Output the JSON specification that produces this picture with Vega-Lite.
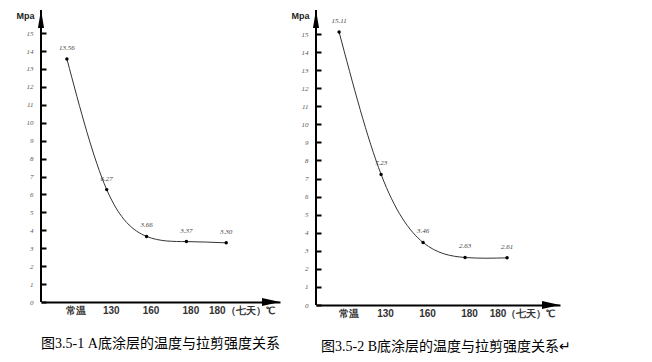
{
  "$schema": "https://vega.github.io/schema/vega-lite/v6.json",
  "background": "white",
  "autosize": {"type": "none"},
  "padding": {"left": 41, "top": 10, "right": 611, "bottom": 352},
  "bounds": "flush",
  "spacing": 36,
  "config": {
    "view": {"stroke": null},
    "axisY": {
      "grid": false,
      "labelOverlap": false,
      "offset": -5,
      "domain": false,
      "tickSize": 5,
      "tickWidth": 2,
      "tickColor": "black",
      "labelFont": "Liberation Serif",
      "labelFontStyle": "italic",
      "labelFontSize": 7,
      "labelColor": "#555",
      "labelPadding": 8,
      "titleAngle": 0,
      "titleFont": "Liberation Sans",
      "titleFontSize": 9,
      "titleFontWeight": "bold",
      "titleColor": "#222",
      "titleAlign": "center",
      "titleBaseline": "middle",
      "titleX": -21,
      "titleY": 5
    },
    "axisX": {
      "grid": false,
      "ticks": false,
      "labelOverlap": false,
      "domainColor": "black",
      "domainWidth": 2,
      "labelFont": "Liberation Sans",
      "labelFontWeight": "bold",
      "labelFontSize": 10,
      "labelColor": "#333",
      "labelPadding": 3,
      "labelExpr": "['','常温','130','160','180','180（七天）℃'][datum.value]",
      "labelOffset": {"condition": [{"test": "datum.value == 5", "value": 15}, {"test": "datum.value == 1", "value": 9}], "value": 4}
    },
    "title": {
      "font": "Liberation Serif, Noto Sans CJK SC",
      "fontSize": 14,
      "fontWeight": "normal",
      "color": "black",
      "orient": "bottom",
      "anchor": "middle",
      "offset": 22
    }
  },
  "hconcat": [
    {
      "width": 239,
      "height": 292,
      "title": {"text": "图3.5-1 A底涂层的温度与拉剪强度关系"},
      "data": {"values": [
        {"cat": "常温", "idx": 1, "mpa": 13.56, "lbl": "13.56"},
        {"cat": "130", "idx": 2, "mpa": 6.27, "lbl": "6.27"},
        {"cat": "160", "idx": 3, "mpa": 3.66, "lbl": "3.66"},
        {"cat": "180", "idx": 4, "mpa": 3.37, "lbl": "3.37"},
        {"cat": "180（七天）℃", "idx": 5, "mpa": 3.30, "lbl": "3.30"}
      ]},
      "encoding": {
        "x": {"field": "idx", "type": "quantitative", "scale": {"domain": [0.35, 6.35], "nice": false, "zero": false}, "axis": {"title": null, "values": [1,2,3,4,5]}},
        "y": {"field": "mpa", "type": "quantitative", "scale": {"domain": [0, 16.29], "nice": false}, "axis": {"title": "Mpa", "values": [0,1,2,3,4,5,6,7,8,9,10,11,12,13,14,15]}}
      },
      "layer": [
        {"mark": {"type": "rule", "color": "black", "strokeWidth": 2},
         "encoding": {"x": {"datum": 0.35, "type": "quantitative"}, "y": {"datum": 0, "type": "quantitative"}, "y2": {"datum": 16.29}}},
        {"mark": {"type": "line", "interpolate": "natural", "color": "#333", "strokeWidth": 1}},
        {"mark": {"type": "point", "filled": true, "color": "black", "size": 12, "opacity": 1}},
        {"mark": {"type": "text", "dy": -11, "font": "Liberation Serif", "fontStyle": "italic", "fontSize": 7, "color": "#444"}, "encoding": {"text": {"field": "lbl"}}},
        {"data": {"values": [{"ax": "y", "px": 0.35, "py": 16.29}]},
         "mark": {"type": "point", "filled": true, "color": "black", "size": 1296, "opacity": 1},
         "encoding": {"x": {"field": "px", "type": "quantitative"}, "y": {"field": "py", "type": "quantitative"}, "shape": {"value": "M0,0 L-0.17,1 L0.17,1 Z"}}},
        {"data": {"values": [{"ax": "x", "px": 6.35, "py": 0}]},
         "mark": {"type": "point", "filled": true, "color": "black", "size": 1296, "opacity": 1},
         "encoding": {"x": {"field": "px", "type": "quantitative"}, "y": {"field": "py", "type": "quantitative"}, "shape": {"value": "M0,0 L-1,-0.22 L-1,0.22 Z"}}}
      ]
    },
    {
      "width": 244,
      "height": 295,
      "title": {"text": "图3.5-2 B底涂层的温度与拉剪强度关系↵", "dx": 8},
      "data": {"values": [
        {"cat": "常温", "idx": 1, "mpa": 15.11, "lbl": "15.11"},
        {"cat": "130", "idx": 2, "mpa": 7.23, "lbl": "7.23"},
        {"cat": "160", "idx": 3, "mpa": 3.46, "lbl": "3.46"},
        {"cat": "180", "idx": 4, "mpa": 2.63, "lbl": "2.63"},
        {"cat": "180（七天）℃", "idx": 5, "mpa": 2.61, "lbl": "2.61"}
      ]},
      "encoding": {
        "x": {"field": "idx", "type": "quantitative", "scale": {"domain": [0.45, 6.26], "nice": false, "zero": false}, "axis": {"title": null, "values": [1,2,3,4,5]}},
        "y": {"field": "mpa", "type": "quantitative", "scale": {"domain": [0, 16.33], "nice": false}, "axis": {"title": "Mpa", "values": [0,1,2,3,4,5,6,7,8,9,10,11,12,13,14,15]}}
      },
      "layer": [
        {"mark": {"type": "rule", "color": "black", "strokeWidth": 2},
         "encoding": {"x": {"datum": 0.45, "type": "quantitative"}, "y": {"datum": 0, "type": "quantitative"}, "y2": {"datum": 16.33}}},
        {"mark": {"type": "line", "interpolate": "natural", "color": "#333", "strokeWidth": 1}},
        {"mark": {"type": "point", "filled": true, "color": "black", "size": 12, "opacity": 1}},
        {"mark": {"type": "text", "dy": -11, "font": "Liberation Serif", "fontStyle": "italic", "fontSize": 7, "color": "#444"}, "encoding": {"text": {"field": "lbl"}}},
        {"data": {"values": [{"ax": "y", "px": 0.45, "py": 16.33}]},
         "mark": {"type": "point", "filled": true, "color": "black", "size": 1296, "opacity": 1},
         "encoding": {"x": {"field": "px", "type": "quantitative"}, "y": {"field": "py", "type": "quantitative"}, "shape": {"value": "M0,0 L-0.17,1 L0.17,1 Z"}}},
        {"data": {"values": [{"ax": "x", "px": 6.26, "py": 0}]},
         "mark": {"type": "point", "filled": true, "color": "black", "size": 1296, "opacity": 1},
         "encoding": {"x": {"field": "px", "type": "quantitative"}, "y": {"field": "py", "type": "quantitative"}, "shape": {"value": "M0,0 L-1,-0.22 L-1,0.22 Z"}}}
      ]
    }
  ]
}
